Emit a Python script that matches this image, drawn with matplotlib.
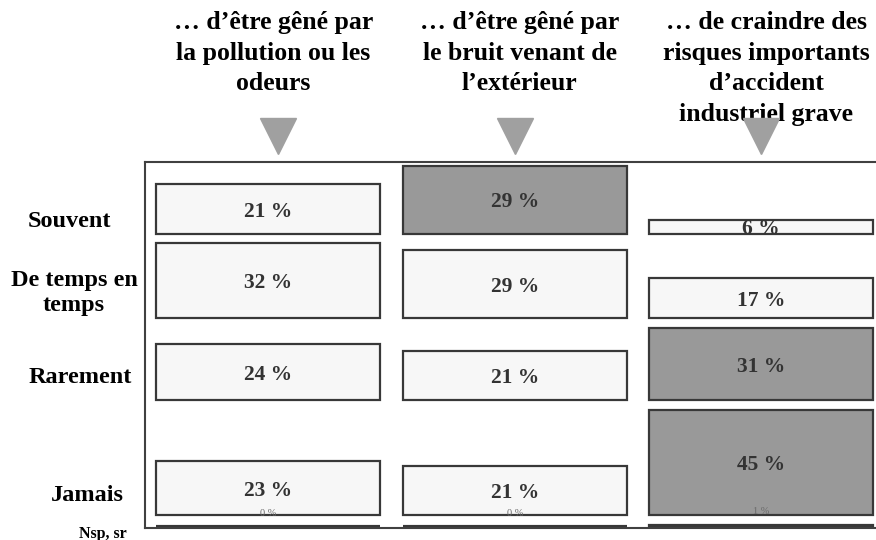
import matplotlib.pyplot as plt
from matplotlib.transforms import blended_transform_factory

rows = ["Souvent", "De temps en\ntemps", "Rarement", "Jamais", "Nsp, sr"]
headers = [
    "… d’être gêné par\nla pollution ou les\nodeurs",
    "… d’être gêné par\nle bruit venant de\nl’extérieur",
    "… de craindre des\nrisques importants\nd’accident\nindustriel grave",
]
pollution = [21, 32, 24, 23, 0]
bruit = [29, 29, 21, 21, 0]
accident = [6, 17, 31, 45, 1]
# cells drawn in dark grey
dark_pollution = [False, False, False, False, False]
dark_bruit = [True, False, False, False, False]
dark_accident = [False, False, True, True, True]

columns = [pollution, bruit, accident]
darks = [dark_pollution, dark_bruit, dark_accident]

plt.rcParams["font.family"] = ["Liberation Serif", "DejaVu Serif"]

LIGHT = "#f7f7f7"
DARK = "#999999"
EDGE = "#383838"
GAP = 4.0

# row baselines: rows stacked from the bottom, each row as tall as its largest value
n = len(rows)
baselines = [0.0] * n
level = 0.0
for i in range(n - 1, -1, -1):
    baselines[i] = level
    level += max(col[i] for col in columns) + GAP
top = baselines[0] + max(col[0] for col in columns) + 1.5

fig = plt.figure(figsize=(8.76, 5.4), dpi=100)
ax = fig.add_axes([145 / 876, 12 / 540, 739.5 / 876, 366 / 540])

width = 0.91
for j, (vals, dk) in enumerate(zip(columns, darks)):
    for i, v in enumerate(vals):
        ax.bar(j, v, width=width, bottom=baselines[i],
               color=DARK if dk[i] else LIGHT, edgecolor=EDGE,
               linewidth=1.6 if v > 0 else 3, zorder=2)
        if i == n - 1:
            ax.annotate(f"{v} %", (j, baselines[i] + v / 2), xytext=(0, 10),
                        textcoords="offset points", ha="center", va="center",
                        fontsize=7.5, color="#6a6a6a", zorder=3)
        else:
            ax.annotate(f"{v} %", (j, baselines[i] + v / 2), xytext=(0, -2),
                        textcoords="offset points", ha="center", va="center",
                        fontsize=15.5, fontweight="bold", color="#333333",
                        zorder=3)

ax.set_xlim(-0.5, 2.5)
ax.set_ylim(-0.4, top)
ax.set_xticks([])
ax.set_yticks([])
for s in ax.spines.values():
    s.set_color("#404040")
    s.set_linewidth(1.5)

# row labels on the left
label_offset = [5, 10.5, 9.5, 8.5, -2.8]
label_x = [69, 74, 80, 87, 103]
trans_rows = blended_transform_factory(fig.transFigure, ax.transData)
for i, name in enumerate(rows):
    small = i == n - 1
    ax.text(label_x[i] / 876, baselines[i] + label_offset[i], name,
            transform=trans_rows, ha="center", va="center",
            fontsize=11.5 if small else 17.5, fontweight="bold",
            linespacing=1.25, clip_on=False)

# headers and arrows above each column
trans_head = blended_transform_factory(ax.transData, fig.transFigure)
for j, h in enumerate(headers):
    ax.text(j + 0.02, 1 - 11 / 540, h, transform=trans_head, ha="center",
            va="top", fontsize=18.5, fontweight="bold", linespacing=1.43)

trans_tri = blended_transform_factory(ax.transData, ax.transAxes)
ax.plot([0.04, 1, 2], [1.072] * 3, linestyle="none", marker="v",
        markersize=26, color="#a0a0a0", transform=trans_tri, clip_on=False,
        zorder=5)

fig.savefig("out.png", dpi=100)
